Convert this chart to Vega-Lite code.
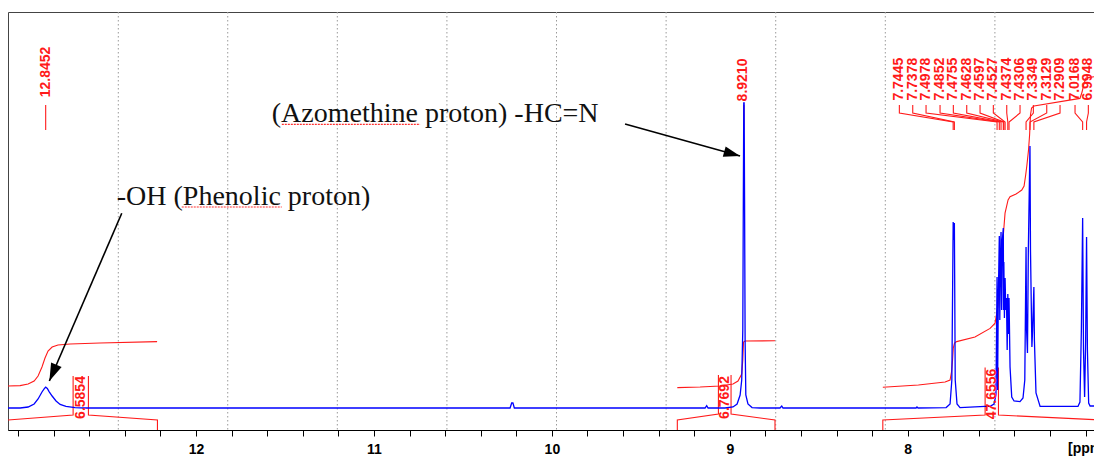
{
  "$schema": "https://vega.github.io/schema/vega-lite/v6.json",
  "width": 1086,
  "height": 418,
  "autosize": {"type": "none"},
  "padding": {"left": 8, "top": 12, "right": 0, "bottom": 28},
  "background": "white",
  "config": {"view": {"stroke": "#444", "strokeWidth": 1}},
  "datasets": {
    "grid": [{"ppm": 12.437}, {"ppm": 11.822}, {"ppm": 11.206}, {"ppm": 10.59}, {"ppm": 9.974}, {"ppm": 9.358}, {"ppm": 8.742}, {"ppm": 8.126}, {"ppm": 7.51}],
    "spectrum": [
      {"ppm": 13.057, "v": 5.5}, {"ppm": 12.989, "v": 5.5}, {"ppm": 12.944, "v": 5.75}, {"ppm": 12.91, "v": 6.5}, {"ppm": 12.888, "v": 7.75}, {"ppm": 12.866, "v": 9.5}, {"ppm": 12.852, "v": 10.4}, {"ppm": 12.845, "v": 10.7}, {"ppm": 12.836, "v": 10.4}, {"ppm": 12.826, "v": 9.6}, {"ppm": 12.809, "v": 8.5}, {"ppm": 12.787, "v": 7.25}, {"ppm": 12.764, "v": 6.4}, {"ppm": 12.731, "v": 5.9}, {"ppm": 12.68, "v": 5.6}, {"ppm": 12.624, "v": 5.5},
      {"ppm": 10.235, "v": 5.5}, {"ppm": 10.226, "v": 6.75}, {"ppm": 10.219, "v": 6.75}, {"ppm": 10.211, "v": 5.5},
      {"ppm": 9.139, "v": 5.5}, {"ppm": 9.13, "v": 6.1}, {"ppm": 9.122, "v": 5.5},
      {"ppm": 9.027, "v": 5.5}, {"ppm": 8.982, "v": 5.75}, {"ppm": 8.959, "v": 6.5}, {"ppm": 8.942, "v": 8.75}, {"ppm": 8.933, "v": 12.5}, {"ppm": 8.927, "v": 25}, {"ppm": 8.924, "v": 57.5}, {"ppm": 8.9215, "v": 81.75}, {"ppm": 8.9195, "v": 81.75}, {"ppm": 8.917, "v": 57.5}, {"ppm": 8.914, "v": 22.5}, {"ppm": 8.91, "v": 8.75}, {"ppm": 8.898, "v": 6.5}, {"ppm": 8.875, "v": 5.6}, {"ppm": 8.83, "v": 5.5},
      {"ppm": 8.718, "v": 5.5}, {"ppm": 8.708, "v": 6}, {"ppm": 8.701, "v": 5.5},
      {"ppm": 7.953, "v": 5.5}, {"ppm": 7.948, "v": 5.75}, {"ppm": 7.942, "v": 5.5},
      {"ppm": 7.784, "v": 5.6}, {"ppm": 7.762, "v": 6.5}, {"ppm": 7.752, "v": 12.5}, {"ppm": 7.7445, "v": 52}, {"ppm": 7.741, "v": 47.5}, {"ppm": 7.7378, "v": 51.75}, {"ppm": 7.733, "v": 12.5}, {"ppm": 7.723, "v": 6.5}, {"ppm": 7.706, "v": 5.6},
      {"ppm": 7.565, "v": 5.9}, {"ppm": 7.537, "v": 5.9}, {"ppm": 7.515, "v": 6.5}, {"ppm": 7.504, "v": 8.75},
      {"ppm": 7.4978, "v": 38.25}, {"ppm": 7.495, "v": 10}, {"ppm": 7.491, "v": 32.5}, {"ppm": 7.4852, "v": 48.5}, {"ppm": 7.4825, "v": 27.5}, {"ppm": 7.479, "v": 42}, {"ppm": 7.4755, "v": 49.5}, {"ppm": 7.472, "v": 30}, {"ppm": 7.468, "v": 47.5}, {"ppm": 7.4628, "v": 50.5}, {"ppm": 7.4612, "v": 30}, {"ppm": 7.4597, "v": 42}, {"ppm": 7.4565, "v": 28}, {"ppm": 7.4527, "v": 38}, {"ppm": 7.449, "v": 30}, {"ppm": 7.445, "v": 33}, {"ppm": 7.441, "v": 20}, {"ppm": 7.4374, "v": 34}, {"ppm": 7.434, "v": 24}, {"ppm": 7.4306, "v": 33}, {"ppm": 7.427, "v": 22}, {"ppm": 7.4249, "v": 15.75}, {"ppm": 7.4154, "v": 8.25}, {"ppm": 7.4024, "v": 7.25},
      {"ppm": 7.369, "v": 7.1}, {"ppm": 7.352, "v": 8}, {"ppm": 7.342, "v": 12.5}, {"ppm": 7.3349, "v": 45.75}, {"ppm": 7.332, "v": 25}, {"ppm": 7.327, "v": 19.25}, {"ppm": 7.322, "v": 45}, {"ppm": 7.3129, "v": 71}, {"ppm": 7.31, "v": 45}, {"ppm": 7.302, "v": 20.75}, {"ppm": 7.298, "v": 25}, {"ppm": 7.2909, "v": 35.75}, {"ppm": 7.288, "v": 22.5}, {"ppm": 7.279, "v": 9.25}, {"ppm": 7.256, "v": 5.9},
      {"ppm": 7.043, "v": 5.9}, {"ppm": 7.032, "v": 7}, {"ppm": 7.024, "v": 25}, {"ppm": 7.0168, "v": 53}, {"ppm": 7.012, "v": 20}, {"ppm": 7.0058, "v": 8.25}, {"ppm": 7.0, "v": 22}, {"ppm": 6.9948, "v": 48.25}, {"ppm": 6.99, "v": 20}, {"ppm": 6.983, "v": 6.75}, {"ppm": 6.975, "v": 6}, {"ppm": 6.953, "v": 6}
    ],
    "red": [
      {"path": "iOH", "ppm": 13.057, "v": 11}, {"path": "iOH", "ppm": 12.989, "v": 11.1}, {"path": "iOH", "ppm": 12.944, "v": 11.5}, {"path": "iOH", "ppm": 12.91, "v": 12.25}, {"path": "iOH", "ppm": 12.888, "v": 13.5}, {"path": "iOH", "ppm": 12.866, "v": 15.75}, {"path": "iOH", "ppm": 12.849, "v": 18}, {"path": "iOH", "ppm": 12.832, "v": 19.75}, {"path": "iOH", "ppm": 12.809, "v": 20.75}, {"path": "iOH", "ppm": 12.776, "v": 21.25}, {"path": "iOH", "ppm": 12.708, "v": 21.5}, {"path": "iOH", "ppm": 12.54, "v": 21.75}, {"path": "iOH", "ppm": 12.219, "v": 22.1},
      {"path": "iAZ", "ppm": 9.295, "v": 10.6}, {"path": "iAZ", "ppm": 9.167, "v": 10.75}, {"path": "iAZ", "ppm": 9.055, "v": 11}, {"path": "iAZ", "ppm": 8.982, "v": 11.5}, {"path": "iAZ", "ppm": 8.954, "v": 12.25}, {"path": "iAZ", "ppm": 8.933, "v": 14}, {"path": "iAZ", "ppm": 8.927, "v": 17.5}, {"path": "iAZ", "ppm": 8.923, "v": 22}, {"path": "iAZ", "ppm": 8.914, "v": 22.25}, {"path": "iAZ", "ppm": 8.746, "v": 22.3},
      {"path": "iAR", "ppm": 8.14, "v": 10.7}, {"path": "iAR", "ppm": 7.94, "v": 11.25}, {"path": "iAR", "ppm": 7.79, "v": 12}, {"path": "iAR", "ppm": 7.762, "v": 12.5}, {"path": "iAR", "ppm": 7.754, "v": 14.5}, {"path": "iAR", "ppm": 7.748, "v": 17.5}, {"path": "iAR", "ppm": 7.744, "v": 20.5}, {"path": "iAR", "ppm": 7.737, "v": 21.75}, {"path": "iAR", "ppm": 7.725, "v": 22.1}, {"path": "iAR", "ppm": 7.622, "v": 23.25}, {"path": "iAR", "ppm": 7.537, "v": 25.4}, {"path": "iAR", "ppm": 7.509, "v": 26.7}, {"path": "iAR", "ppm": 7.492, "v": 31.25}, {"path": "iAR", "ppm": 7.481, "v": 37.5}, {"path": "iAR", "ppm": 7.467, "v": 46.25}, {"path": "iAR", "ppm": 7.453, "v": 54.2}, {"path": "iAR", "ppm": 7.436, "v": 57.5}, {"path": "iAR", "ppm": 7.425, "v": 58.3}, {"path": "iAR", "ppm": 7.391, "v": 59}, {"path": "iAR", "ppm": 7.359, "v": 60}, {"path": "iAR", "ppm": 7.346, "v": 61}, {"path": "iAR", "ppm": 7.337, "v": 63.75}, {"path": "iAR", "ppm": 7.33, "v": 66.25}, {"path": "iAR", "ppm": 7.321, "v": 70}, {"path": "iAR", "ppm": 7.315, "v": 73.75}, {"path": "iAR", "ppm": 7.31, "v": 78.75}, {"path": "iAR", "ppm": 7.304, "v": 80.5}, {"path": "iAR", "ppm": 7.29, "v": 81}, {"path": "iAR", "ppm": 7.032, "v": 82.9}, {"path": "iAR", "ppm": 7.02, "v": 84.5}, {"path": "iAR", "ppm": 7.01, "v": 86.5}, {"path": "iAR", "ppm": 6.998, "v": 88}, {"path": "iAR", "ppm": 6.953, "v": 88.3},
      {"path": "bOHL", "ppm": 13.057, "v": 2.5}, {"path": "bOHL", "ppm": 12.691, "v": 3.75}, {"path": "bOHL", "ppm": 12.691, "v": 13.5},
      {"path": "bOHR", "ppm": 12.605, "v": 13.5}, {"path": "bOHR", "ppm": 12.605, "v": 3.75}, {"path": "bOHR", "ppm": 12.217, "v": 2.5}, {"path": "bOHR", "ppm": 12.217, "v": 0},
      {"path": "bAZL", "ppm": 9.295, "v": 0}, {"path": "bAZL", "ppm": 9.295, "v": 2.5}, {"path": "bAZL", "ppm": 9.064, "v": 4}, {"path": "bAZL", "ppm": 9.064, "v": 13.75},
      {"path": "bAZR", "ppm": 8.993, "v": 13.75}, {"path": "bAZR", "ppm": 8.993, "v": 4}, {"path": "bAZR", "ppm": 8.746, "v": 2.5}, {"path": "bAZR", "ppm": 8.746, "v": 0},
      {"path": "bARL", "ppm": 8.14, "v": 0}, {"path": "bARL", "ppm": 8.14, "v": 2.5}, {"path": "bARL", "ppm": 7.565, "v": 3.75}, {"path": "bARL", "ppm": 7.565, "v": 15.6},
      {"path": "bARR", "ppm": 7.49, "v": 15.6}, {"path": "bARR", "ppm": 7.49, "v": 3.75}, {"path": "bARR", "ppm": 6.953, "v": 2.6},
      {"path": "c0", "ppm": 12.8452, "v": 81.25}, {"path": "c0", "ppm": 12.8452, "v": 75},
      {"path": "c00", "ppm": 8.921, "v": 81.25}, {"path": "c00", "ppm": 8.921, "v": 75},
      {"path": "c1", "ppm": 8.047, "v": 81.25}, {"path": "c1", "ppm": 8.047, "v": 79.25}, {"path": "c1", "ppm": 7.7445, "v": 77}, {"path": "c1", "ppm": 7.7445, "v": 75},
      {"path": "c2", "ppm": 7.9718, "v": 81.25}, {"path": "c2", "ppm": 7.9718, "v": 79.25}, {"path": "c2", "ppm": 7.7378, "v": 77}, {"path": "c2", "ppm": 7.7378, "v": 75},
      {"path": "c3", "ppm": 7.897, "v": 81.25}, {"path": "c3", "ppm": 7.897, "v": 79.25}, {"path": "c3", "ppm": 7.4978, "v": 77}, {"path": "c3", "ppm": 7.4978, "v": 75},
      {"path": "c4", "ppm": 7.8183, "v": 81.25}, {"path": "c4", "ppm": 7.8183, "v": 79.25}, {"path": "c4", "ppm": 7.4852, "v": 77}, {"path": "c4", "ppm": 7.4852, "v": 75},
      {"path": "c5", "ppm": 7.7436, "v": 81.25}, {"path": "c5", "ppm": 7.7436, "v": 79.25}, {"path": "c5", "ppm": 7.4755, "v": 77}, {"path": "c5", "ppm": 7.4755, "v": 75},
      {"path": "c6", "ppm": 7.6683, "v": 81.25}, {"path": "c6", "ppm": 7.6683, "v": 79.25}, {"path": "c6", "ppm": 7.4628, "v": 77}, {"path": "c6", "ppm": 7.4628, "v": 75},
      {"path": "c7", "ppm": 7.5935, "v": 81.25}, {"path": "c7", "ppm": 7.5935, "v": 79.25}, {"path": "c7", "ppm": 7.4597, "v": 77}, {"path": "c7", "ppm": 7.4597, "v": 75},
      {"path": "c8", "ppm": 7.5188, "v": 81.25}, {"path": "c8", "ppm": 7.5188, "v": 79.25}, {"path": "c8", "ppm": 7.4527, "v": 77}, {"path": "c8", "ppm": 7.4527, "v": 75},
      {"path": "c9", "ppm": 7.4434, "v": 81.25}, {"path": "c9", "ppm": 7.4434, "v": 79.25}, {"path": "c9", "ppm": 7.4374, "v": 77}, {"path": "c9", "ppm": 7.4374, "v": 75},
      {"path": "c10", "ppm": 7.3687, "v": 81.25}, {"path": "c10", "ppm": 7.3687, "v": 79.25}, {"path": "c10", "ppm": 7.4306, "v": 77}, {"path": "c10", "ppm": 7.4306, "v": 75},
      {"path": "c11", "ppm": 7.2939, "v": 81.25}, {"path": "c11", "ppm": 7.2939, "v": 79.25}, {"path": "c11", "ppm": 7.3349, "v": 77}, {"path": "c11", "ppm": 7.3349, "v": 75},
      {"path": "c12", "ppm": 7.2186, "v": 81.25}, {"path": "c12", "ppm": 7.2186, "v": 79.25}, {"path": "c12", "ppm": 7.3129, "v": 77}, {"path": "c12", "ppm": 7.3129, "v": 75},
      {"path": "c13", "ppm": 7.1439, "v": 81.25}, {"path": "c13", "ppm": 7.1439, "v": 79.25}, {"path": "c13", "ppm": 7.2909, "v": 77}, {"path": "c13", "ppm": 7.2909, "v": 75},
      {"path": "c14", "ppm": 7.0596, "v": 81.25}, {"path": "c14", "ppm": 7.0596, "v": 79.25}, {"path": "c14", "ppm": 7.0168, "v": 77}, {"path": "c14", "ppm": 7.0168, "v": 75},
      {"path": "c15", "ppm": 6.9848, "v": 81.25}, {"path": "c15", "ppm": 6.9848, "v": 79.25}, {"path": "c15", "ppm": 6.9948, "v": 77}, {"path": "c15", "ppm": 6.9948, "v": 75}
    ],
    "vlabels": [
      {"t": "12.8452", "ppm": 12.844, "v": 89.5},
      {"t": "8.9210", "ppm": 8.925, "v": 87.5},
      {"t": "7.7445", "ppm": 8.047, "v": 87.7},
      {"t": "7.7378", "ppm": 7.9718, "v": 87.7},
      {"t": "7.4978", "ppm": 7.897, "v": 87.7},
      {"t": "7.4852", "ppm": 7.8183, "v": 87.7},
      {"t": "7.4755", "ppm": 7.7436, "v": 87.7},
      {"t": "7.4628", "ppm": 7.6683, "v": 87.7},
      {"t": "7.4597", "ppm": 7.5935, "v": 87.7},
      {"t": "7.4527", "ppm": 7.5188, "v": 87.7},
      {"t": "7.4374", "ppm": 7.4434, "v": 87.7},
      {"t": "7.4306", "ppm": 7.3687, "v": 87.7},
      {"t": "7.3349", "ppm": 7.2939, "v": 87.7},
      {"t": "7.3129", "ppm": 7.2186, "v": 87.7},
      {"t": "7.2909", "ppm": 7.1439, "v": 87.7},
      {"t": "7.0168", "ppm": 7.0596, "v": 87.7},
      {"t": "6.9948", "ppm": 6.9848, "v": 87.7},
      {"t": "6.5854", "ppm": 12.646, "v": 8.125},
      {"t": "6.7692", "ppm": 9.0267, "v": 8.125},
      {"t": "47.6556", "ppm": 7.5277, "v": 9}
    ],
    "notes": [
      {"t": "(Azomethine proton) -HC=N", "ppm": 11.5745, "v": 77.1},
      {"t": "-OH (Phenolic proton)", "ppm": 12.4457, "v": 56.25}
    ],
    "underlines": [
      {"ppm": 11.518, "ppm2": 10.741, "v": 76.4},
      {"ppm": 12.0804, "ppm2": 11.5183, "v": 55.75}
    ],
    "arrows": [
      {"arrow": "azomethine", "ppm": 8.9424, "v": 68.5, "ppm2": 9.5888, "v2": 76.5},
      {"arrow": "phenolic", "ppm": 12.8245, "v": 12.25, "ppm2": 12.4176, "v2": 54.175}
    ],
    "unit": [{"t": "[ppm]", "ppm": 7.099, "v": -4.75}]
  },
  "encoding": {
    "x": {"field": "ppm", "type": "quantitative",
      "scale": {"domain": [6.953, 13.057], "reverse": true, "nice": false, "zero": false},
      "axis": {
        "title": null, "grid": false,
        "values": [13, 12.8, 12.6, 12.4, 12.2, 12, 11.8, 11.6, 11.4, 11.2, 11, 10.8, 10.6, 10.4, 10.2, 10, 9.8, 9.6, 9.4, 9.2, 9, 8.8, 8.6, 8.4, 8.2, 8, 7.8, 7.6, 7.4, 7.2, 7],
        "labelExpr": "(abs(datum.value - round(datum.value)) < 0.01 && datum.value > 7.5 && datum.value < 12.5) ? format(datum.value, 'd') : ''",
        "domainColor": "#000", "domainWidth": 1, "tickColor": "#000", "tickSize": 6, "tickWidth": 1,
        "labelFont": "Liberation Sans", "labelFontWeight": "bold", "labelFontSize": 14, "labelColor": "#000",
        "labelPadding": 6, "labelFlush": false, "labelOverlap": false
      }
    }
  },
  "layer": [
    {
      "data": {"name": "grid"},
      "mark": {"type": "rule", "color": "#9a9a9a", "strokeDash": [1.5, 2.5], "strokeWidth": 1}
    },
    {
      "data": {"name": "red"},
      "mark": {"type": "line", "color": "#ff1a1a", "strokeWidth": 1.1, "interpolate": "linear"},
      "encoding": {
        "y": {"field": "v", "type": "quantitative", "scale": {"domain": [0, 104.5], "nice": false, "zero": false}, "axis": null},
        "detail": {"field": "path"},
        "order": {"value": null}
      }
    },
    {
      "data": {"name": "spectrum"},
      "mark": {"type": "line", "color": "#0000ff", "strokeWidth": 1.3, "interpolate": "linear"},
      "encoding": {
        "y": {"field": "v", "type": "quantitative", "axis": null},
        "order": {"value": null}
      }
    },
    {
      "data": {"name": "vlabels"},
      "mark": {"type": "text", "angle": 270, "align": "center", "baseline": "middle", "font": "Liberation Sans", "fontWeight": "bold", "fontSize": 14, "color": "#ff1a1a"},
      "encoding": {
        "y": {"field": "v", "type": "quantitative", "axis": null},
        "text": {"field": "t"}
      }
    },
    {
      "data": {"name": "notes"},
      "mark": {"type": "text", "align": "left", "baseline": "alphabetic", "font": "Liberation Serif", "fontSize": 28, "color": "#111111"},
      "encoding": {
        "y": {"field": "v", "type": "quantitative", "axis": null},
        "text": {"field": "t"}
      }
    },
    {
      "data": {"name": "underlines"},
      "mark": {"type": "rule", "color": "#ff3030", "strokeWidth": 1.2, "strokeDash": [2, 1]},
      "encoding": {
        "x2": {"field": "ppm2"},
        "y": {"field": "v", "type": "quantitative", "axis": null}
      }
    },
    {
      "data": {"name": "arrows"},
      "mark": {"type": "rule", "color": "#000000", "strokeWidth": 1.6},
      "encoding": {
        "x2": {"field": "ppm2"},
        "y": {"field": "v", "type": "quantitative", "axis": null},
        "y2": {"field": "v2"}
      }
    },
    {
      "data": {"name": "arrows"},
      "transform": [{"filter": "datum.arrow === 'azomethine'"}],
      "mark": {"type": "point", "shape": "M0,0L-2,-0.65L-2,0.65Z", "filled": true, "color": "#000000", "opacity": 1, "size": 270, "angle": 15.5},
      "encoding": {
        "y": {"field": "v", "type": "quantitative", "axis": null}
      }
    },
    {
      "data": {"name": "arrows"},
      "transform": [{"filter": "datum.arrow === 'phenolic'"}],
      "mark": {"type": "point", "shape": "M0,0L-2,-0.65L-2,0.65Z", "filled": true, "color": "#000000", "opacity": 1, "size": 310, "angle": 113.4},
      "encoding": {
        "y": {"field": "v", "type": "quantitative", "axis": null}
      }
    },
    {
      "data": {"name": "unit"},
      "mark": {"type": "text", "align": "left", "baseline": "middle", "font": "Liberation Sans", "fontWeight": "bold", "fontSize": 14, "color": "#000"},
      "encoding": {
        "y": {"field": "v", "type": "quantitative", "axis": null},
        "text": {"field": "t"}
      }
    }
  ]
}
